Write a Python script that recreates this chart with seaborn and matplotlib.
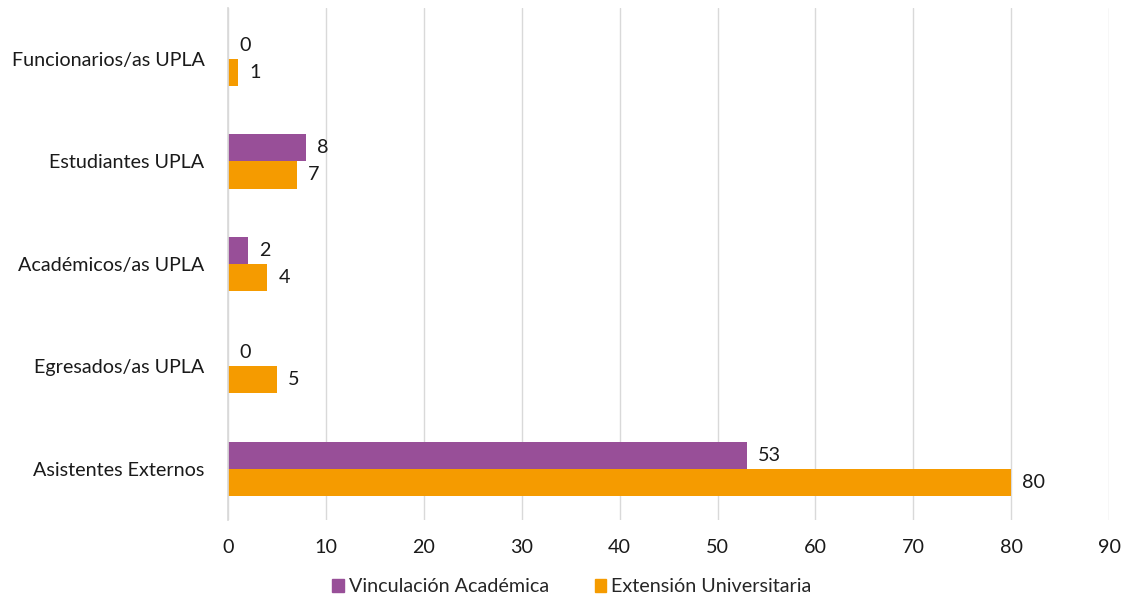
import numpy as np
import pandas as pd
import matplotlib
matplotlib.use("Agg")
import matplotlib.pyplot as plt
import seaborn as sns

# ── Data ──
categories = [
    "Funcionarios/as UPLA",
    "Estudiantes UPLA",
    "Académicos/as UPLA",
    "Egresados/as UPLA",
    "Asistentes Externos",
]
series_names = ["Vinculación Académica", "Extensión Universitaria"]
vinculacion = [0, 8, 2, 0, 53]
extension = [1, 7, 4, 5, 80]
x_ticks = list(range(0, 100, 10))

colors = {"Vinculación Académica": "#984F98", "Extensión Universitaria": "#F59B00"}

df = pd.DataFrame({
    "categoria": categories * 2,
    "serie": [series_names[0]] * len(categories) + [series_names[1]] * len(categories),
    "valor": vinculacion + extension,
})

# ── Plot ──
sns.set_theme(style="white")
plt.rcParams["font.family"] = ["Lato", "DejaVu Sans"]
FS = 14.2

fig, ax = plt.subplots(figsize=(11.26, 6.01), dpi=100)
fig.subplots_adjust(left=0.2025, right=0.985, top=0.987, bottom=0.135)

sns.barplot(
    data=df, y="categoria", x="valor", hue="serie",
    order=categories, hue_order=series_names, palette=colors,
    orient="h", width=0.53, saturation=1, linewidth=0, ax=ax, legend=False,
)

for cont in ax.containers:
    ax.bar_label(cont, labels=[f"{v:g}" for v in cont.datavalues],
                 padding=8, fontsize=FS, color="#1a1a1a")

ax.set_xlim(0, 90)
ax.set_ylim(4.5, -0.5)
ax.set_xticks(x_ticks)
ax.xaxis.grid(True, color="#d9d9d9", linewidth=1)
ax.set_axisbelow(True)
for side in ["top", "right", "bottom"]:
    ax.spines[side].set_visible(False)
ax.spines["left"].set_color("#d9d9d9")
ax.tick_params(axis="both", length=0, labelsize=FS, colors="#1a1a1a")
ax.tick_params(axis="y", pad=17)
ax.tick_params(axis="x", pad=14)
ax.set_xlabel("")
ax.set_ylabel("")

handles = [plt.Rectangle((0, 0), 1, 1, color=colors[s]) for s in series_names]
fig.legend(handles, series_names, loc="lower center", ncol=2, frameon=False,
           bbox_to_anchor=(0.508, -0.02), fontsize=FS, handlelength=0.6,
           handleheight=0.6, handletextpad=0.25, columnspacing=2.3)

fig.savefig("out.png", dpi=100)
